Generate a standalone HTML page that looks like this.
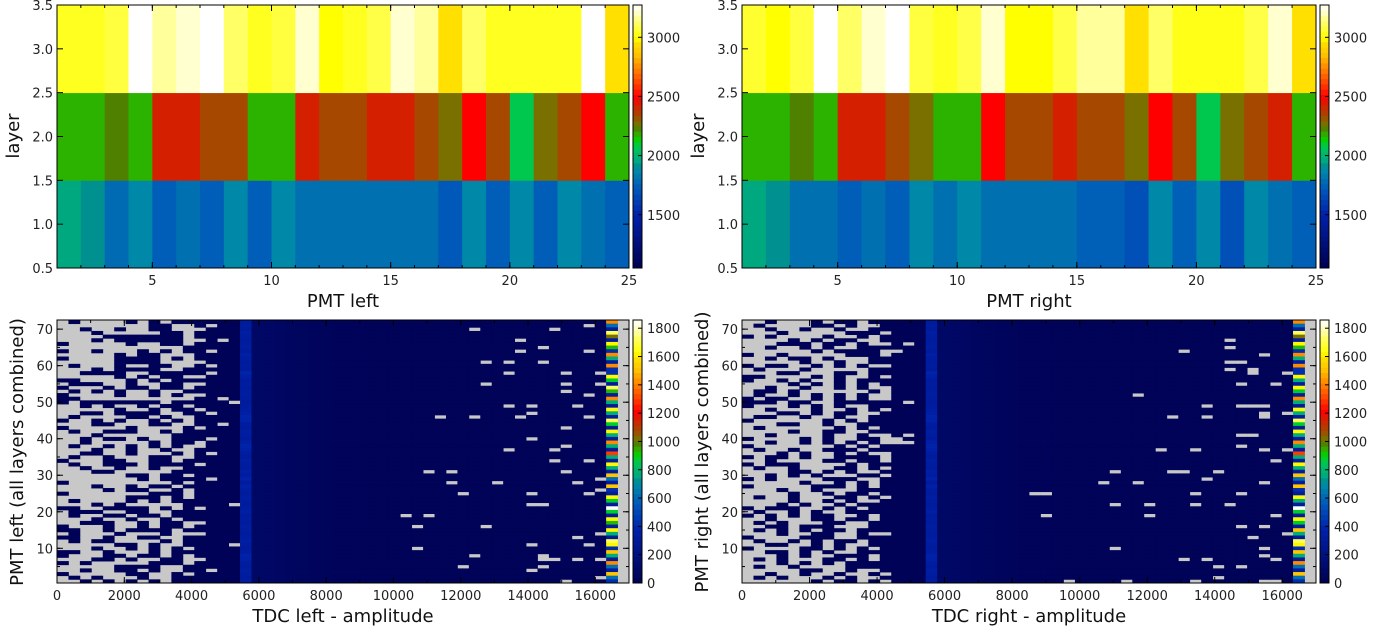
<!DOCTYPE html>
<html><head><meta charset="utf-8"><style>
html,body{margin:0;padding:0;background:#fff;}
svg{display:block;font-family:"DejaVu Sans","Liberation Sans",sans-serif;}
</style></head><body>
<svg id="root" width="1378" height="636" viewBox="0 0 1378 636" xmlns="http://www.w3.org/2000/svg"></svg>
<script>
// ---------- data: top heatmaps (layer x PMT) ----------
const pmtCategories = [1,2,3,4,5,6,7,8,9,10,11,12,13,14,15,16,17,18,19,20,21,22,23,24];
const leftLayer3 = [3040,3040,3080,3280,3170,3220,3280,3120,3040,3080,3220,3000,3040,3090,3220,3170,2950,3120,3040,3040,3040,3040,3280,2950];
const leftLayer2 = [2170,2170,2230,2170,2430,2430,2340,2340,2170,2170,2430,2340,2340,2430,2430,2340,2270,2500,2340,2080,2270,2340,2500,2170];
const leftLayer1 = [1960,1920,1780,1880,1740,1800,1740,1880,1740,1880,1800,1800,1800,1800,1800,1800,1720,1880,1740,1880,1740,1880,1800,1750];
const rightLayer3 = [3060,3000,3080,3280,3120,3220,3280,3080,3040,3090,3220,3000,3000,3090,3170,3170,2950,3120,3030,3030,3030,3090,3220,2950];
const rightLayer2 = [2170,2170,2230,2170,2430,2430,2340,2270,2170,2170,2500,2340,2340,2430,2340,2340,2270,2500,2340,2080,2270,2340,2430,2170];
const rightLayer1 = [1960,1920,1800,1800,1740,1800,1740,1880,1800,1880,1800,1800,1800,1800,1750,1750,1690,1880,1750,1880,1690,1880,1800,1750];
const topTicksY = [0.5,1.0,1.5,2.0,2.5,3.0,3.5];
const topTicksX = [5,10,15,20,25];
const topCbTicks = [1500,2000,2500,3000];
// ---------- data: bottom heatmaps (TDC amplitude x PMT) ----------
const leftRows = [
".#....#.#.######","........##..#.##","..#..#..##...###","...#.....##.####","....#######.####","...#.######..#.#",
"#.....#..##.####","...........#####","#..#...#.#.##.##",".....#.##...####","#....####.#.####",".....####....###",
".#...#..##..#.##","...#.####..#####","..####..#####.##",".....#.#.##..###","##....#.#.######",".###..#..##..###",
"#...#.##.##.####",".#.#.#..#..#####","#....#..#.#..###","##..........##.#","#.#######.#####.","..#.#..#.##.####",
".....#..#.##.###","..##.####..##.##",".#....##.#..####","#..#.#..#.#.####","...##...##..##.#","#.....#....#.###",
".#..###..#.#####","...#......######","..#.##.#..###.##","..#.....#.##.###",".#..#.#.#.#..###","...#..#..#..####",
"..##..#...#.#.##",".#..#...##..####","#...##..##.#####",".#..###.####.###","..#..#..#..#####","...##.....######",
"......##.##.####",".......#.####.##","#.........#.####","...#..#.##.#####","....#.##..#.####","#.......###.####",
"......###.#.####",".#....#.#.######","...#.#.....####.","##..####.#.#.###",".###..##..######",".#..##.##.######",
"...#..#..#.#####","..###..#.##..###","#...#..#.##.####","##..#.####.#####",".#...#...#...###","##..#..##..#####",
".#.##....#.#####",".....##.#..####.","...#..#.#.#.####","##..#...#.######","#...##.##.#.####","...##.#..##..###",
"#.#.....###.####",".....####..#####","..#..##.#..##.##","#.....##..#.####",".#.#...#..######","..#.#.#.#.######"];
const rightRows = [
"..#...#.##.#####",".#....##.#..####","..#..#..#..#####","...#.....###.###","#.#....#..#.####","....#.#.##..####",
"...###.##.#..#.#","..#..#.#..######","......#.####..##","#..#.....###.###","..#.##.#...#####",".....#..#..#####",
"#.##..#.#.#..###",".#...#.....#####","...##...##.#####","##....#.#..#.###","#..#.#..#.######","....#.#.#.#.####",
"..#..#..#.#..###",".##.#......#.###",".#..#.#.#.#..###","#.##..#.#.#..###","###.##..######.#","#...#.#.#..#####",
"..#...#..#.#.###","...##.#.##..####",".##..#..#..#####","#......#.#.#####","...##..#..######",".#......#.#.####",
"....#..##..#####","..#....#..#..###","#....#.#..##..##","..#..#.#.#.#..##","#.......#.#.####",".#..#..###.#####",
"...#.#..#.#..###","#.##.#..####.###","..#....##.##.###","#.###....#.#####",".#..#...##.#.###","....##.#.#..####",
"..#.#.#...##.###","#.#....###..####",".....#..#.#.####","#.....###.#.####","...#..#...######","....#..#.##.####",
".#..#...##.#.###","....#..#.#..####","...#.#..#.######","#.###..#.#.#####",".#..#.#..#######","#.#.#.##..#.####",
"..#...##.##.####",".#.#...##..#####","..##.###...#####",".#.#.#.##.######","...#..##..#..###","#....###..######",
".#..#.#.##.#####","..##..#.#..#####","#....##.#.#.####","..##.#.#..######","...#.#..###.####",".#.#...##.#.####",
"...#.#.#.#######",".#..#....#######",".....##..#..####","..#..#..#..#.###",".#.#...#.#..####","......#.##.#.###"];
// isolated empty bins beyond the dense region: [row, bin]
const leftEmpty = [[70,36],[70,43],[71,46],[67,40],[65,42],[64,40],[64,46],[61,37],[61,39],[61,42],[58,39],[58,44],[58,47],[55,37],[55,44],[55,47],[53,44],[52,46],[49,39],[49,41],[49,45],[47,41],[46,33],[46,36],[46,40],[46,46],[43,44],[40,41],[38,44],[37,39],[37,43],[34,43],[34,46],[31,32],[31,34],[31,44],[29,47],[28,34],[28,38],[28,45],[26,47],[25,35],[25,41],[25,46],[22,41],[22,42],[19,30],[19,32],[16,31],[16,37],[14,47],[13,45],[11,41],[11,46],[10,31],[8,36],[8,42],[7,42],[7,43],[7,45],[7,47],[5,35],[5,42],[4,41],[2,47],[1,44]];
const rightEmpty = [[67,42],[65,42],[64,38],[63,45],[61,42],[61,43],[59,42],[59,44],[58,44],[58,47],[55,43],[55,46],[52,34],[49,40],[49,43],[49,44],[49,45],[46,37],[46,40],[46,45],[47,45],[47,47],[41,43],[41,44],[41,14],[39,14],[38,43],[37,36],[37,39],[37,45],[37,47],[34,46],[31,32],[31,37],[31,38],[31,41],[29,40],[28,31],[28,34],[28,45],[25,25],[25,26],[25,39],[25,43],[22,32],[22,35],[22,39],[22,42],[19,26],[19,35],[19,46],[16,43],[16,45],[14,47],[13,44],[10,32],[10,45],[8,45],[7,38],[7,40],[7,46],[5,41],[5,43],[2,41],[1,28],[1,33],[1,39],[1,45],[1,46]];
// bin 16 (brighter blue column) per row, top (72) to bottom (1)
const leftBright = [330,340,330,350,340,330,340,350,330,360,340,330,340,330,390,360,330,340,330,340,350,340,330,340,350,360,390,380,340,330,350,340,330,360,390,370,340,330,350,340,330,360,340,380,330,370,340,330,350,340,330,340,360,330,340,330,350,340,330,340,360,340,330,340,380,370,340,330,350,340,330,340];
const rightBright = leftBright.map(function(v){return v;});
// baseline counts across amplitude bins 16..47 (bin 16 overridden above)
const midBase = [350,95,85,75,65,55,50,45,40,40,38,36,35,34,33,32,32,31,30,30,30,30,30,30,30,30,30,30,30,30,30,30];
const denseNavy = 28;
// bin 48 stripe column per row, top (72) to bottom (1)
const leftStripe = [1420,620,330,1720,1020,330,1620,930,420,1420,780,330,1420,420,420,1620,880,330,1720,930,330,1420,780,330,1620,780,330,1720,880,330,1620,780,330,1420,780,330,1300,780,330,1620,780,330,1520,620,330,1520,420,330,1620,880,330,1850,880,330,1620,930,330,1620,780,330,1720,1620,420,1520,780,330,1420,620,330,1520,620,420];
const rightStripe = [1420,620,330,1720,1020,330,1620,930,420,1420,780,330,1420,420,420,1620,780,330,1620,880,330,1420,780,330,1620,780,330,1720,880,330,1620,780,330,1420,780,330,1300,780,330,1620,780,330,1520,620,330,1520,420,330,1620,780,330,1850,880,330,1620,880,330,1520,780,330,1720,1620,420,1520,780,330,1420,620,330,1520,620,420];
const botTicksX = [0,2000,4000,6000,8000,10000,12000,14000,16000];
const botTicksY = [10,20,30,40,50,60,70];
const botCbTicks = [0,200,400,600,800,1000,1200,1400,1600,1800];

// ---------- palette ----------
const palStops = [[0,'#000050'],[0.202,'#0020a8'],[0.288,'#0050b8'],[0.315,'#0060b8'],[0.337,'#0070b0'],[0.373,'#0088a8'],[0.391,'#009090'],[0.409,'#00a880'],[0.463,'#00c850'],[0.486,'#00d000'],[0.504,'#2bb300'],[0.531,'#508000'],[0.549,'#7a7000'],[0.58,'#a64800'],[0.621,'#d42000'],[0.652,'#ff0000'],[0.742,'#ff7000'],[0.81,'#ffc000'],[0.855,'#ffe000'],[0.877,'#ffff00'],[0.922,'#ffff50'],[0.976,'#ffffd0'],[1,'#ffffff']];
function hx(c){return [parseInt(c.substr(1,2),16),parseInt(c.substr(3,2),16),parseInt(c.substr(5,2),16)];}
function palette(t){
  t=Math.max(0,Math.min(1,t));
  for(let i=1;i<palStops.length;i++){
    if(t<=palStops[i][0]){
      const a=palStops[i-1],b=palStops[i];const f=(t-a[0])/(b[0]-a[0]||1);
      const ca=hx(a[1]),cb=hx(b[1]);
      return 'rgb('+ca.map((v,k)=>Math.round(v+(cb[k]-v)*f)).join(',')+')';
    }
  }
  return '#ffffff';
}
const NS='http://www.w3.org/2000/svg';
const root=document.getElementById('root');
function el(tag,attrs,parent){const e=document.createElementNS(NS,tag);for(const k in attrs)e.setAttribute(k,attrs[k]);(parent||root).appendChild(e);return e;}
function txt(s,attrs,parent){const e=el('text',attrs,parent);e.textContent=s;return e;}

function frameAndTicks(g,x0,x1,y0,y1,xs,ys,ticksX,ticksY,fmtX,fmtY,minorX,minorY){
  const fr=el('rect',{x:x0,y:y0,width:x1-x0,height:y1-y0,fill:'none',stroke:'#000','stroke-width':1},g);
  
  
  minorX.forEach(v=>{const X=xs(v);el('line',{x1:X,x2:X,y1:y1,y2:y1-3,stroke:'#000'},g);el('line',{x1:X,x2:X,y1:y0,y2:y0+3,stroke:'#000'},g);});
  minorY.forEach(v=>{const Y=ys(v);el('line',{x1:x0,x2:x0+3,y1:Y,y2:Y,stroke:'#000'},g);el('line',{x1:x1,x2:x1-3,y1:Y,y2:Y,stroke:'#000'},g);});
  ticksX.forEach(v=>{const X=xs(v);
    el('line',{x1:X,x2:X,y1:y1,y2:y1-6,stroke:'#000'},g);el('line',{x1:X,x2:X,y1:y0,y2:y0+6,stroke:'#000'},g);
    const t=txt(fmtX(v),{x:X,y:y1+17,'font-size':13,'text-anchor':'middle',fill:'#222'},g);
    
    
  });
  ticksY.forEach(v=>{const Y=ys(v);
    el('line',{x1:x0,x2:x0+6,y1:Y,y2:Y,stroke:'#000'},g);el('line',{x1:x1,x2:x1-6,y1:Y,y2:Y,stroke:'#000'},g);
    const t=txt(fmtY(v),{x:x0-4,y:Y+5,'font-size':13,'text-anchor':'end',fill:'#222'},g);
    
    
  });
}
function colorbar(g,cx,y0,y1,vmin,vmax,ticks){
  const n=50,h=(y1-y0)/n;
  for(let i=0;i<n;i++){
    const r=el('rect',{x:cx,y:y1-(i+1)*h,width:9,height:h+0.5,fill:palette((i+0.5)/n)},g);
    
    
  }
  const fr=el('rect',{x:cx,y:y0,width:9,height:y1-y0,fill:'none',stroke:'#000'},g);
  
  
  ticks.forEach(v=>{const Y=y1-(v-vmin)/(vmax-vmin)*(y1-y0);
    el('line',{x1:cx+9,x2:cx+5,y1:Y,y2:Y,stroke:'#000'},g);
    const t=txt(String(v),{x:cx+14,y:Y+5,'font-size':13,fill:'#222'},g);
    
    
  });
}

function drawTop(name,x0,x1,l1,l2,l3,xtitle,cbx){
  const g=el('g',{});
  
  
  const y0=5,y1=268,vmin=1050,vmax=3273;
  const xs=v=>x0+(v-1)/24*(x1-x0), ys=v=>y1-(v-0.5)/3*(y1-y0);
  [l1,l2,l3].forEach((arr,li)=>{
    arr.forEach((v,i)=>{
      const c=pmtCategories[i];
      const X=xs(c),X2=xs(c+1),Y=ys(li+1.5),Y2=ys(li+0.5);
      const r=el('rect',{x:X,y:Y,width:X2-X+0.4,height:Y2-Y+0.4,fill:palette((v-vmin)/(vmax-vmin))},g);
      
      
    });
  });
  const minX=[];for(let i=1;i<=25;i++)minX.push(i);
  frameAndTicks(g,x0,x1,y0,y1,xs,ys,topTicksX,topTicksY,v=>String(v),v=>v.toFixed(1),minX,[]);
  colorbar(g,cbx,y0,y1,vmin,vmax,topCbTicks);
  const t=txt(xtitle,{x:(x0+x1)/2,y:307,'font-size':18,'text-anchor':'middle',fill:'#111'},g);
  
  
  const yt=txt('layer',{x:0,y:0,'font-size':18,'text-anchor':'middle',fill:'#111',transform:'translate('+(x0-38)+',136) rotate(-90)'},g);
  
  
}

function drawBottom(name,x0,x1,rows,empty,bright,stripe,xtitle,ytitle,cbx){
  const g=el('g',{});
  
  
  const y0=320,y1=583,vmax=1858,binW=340,nb=50;
  const xs=v=>x0+v/17000*(x1-x0), ys=v=>y1-(v-0.5)/72*(y1-y0);
  const bg=el('rect',{x:x0,y:y0,width:x1-x0,height:y1-y0,fill:'#c8c8c8'},g);
  
  
  const emptySet={};empty.forEach(e=>{emptySet[e[0]+'_'+e[1]]=1;});
  for(let ri=0;ri<72;ri++){
    const row=72-ri;
    for(let b=0;b<nb;b++){
      let v=0;
      if(b<16){v=rows[ri][b]==='#'?denseNavy:0;}
      else if(b===16){v=bright[ri];}
      else if(b<48){v=emptySet[row+'_'+b]?0:midBase[b-16];}
      else if(b===48){v=stripe[ri];}
      if(b<16&&emptySet[row+'_'+b])v=0;
      if(v<=0)continue;
      const X=xs(b*binW),X2=xs((b+1)*binW),Y=ys(row+0.5),Y2=ys(row-0.5);
      const r=el('rect',{x:X,y:Y,width:X2-X+0.4,height:Y2-Y+0.4,fill:palette(v/vmax)},g);
      
      
    }
  }
  const minX=[];for(let v=0;v<=17000;v+=1000)minX.push(v);
  const minY=[];for(let v=5;v<=72;v+=5)minY.push(v);
  frameAndTicks(g,x0,x1,y0,y1,xs,ys,botTicksX,botTicksY,v=>String(v),v=>String(v),minX,minY);
  colorbar(g,cbx,y0,y1,0,vmax,botCbTicks);
  const t=txt(xtitle,{x:(x0+x1)/2,y:622,'font-size':18,'text-anchor':'middle',fill:'#111'},g);
  
  
  const yt=txt(ytitle,{x:0,y:0,'font-size':18,'text-anchor':'middle',fill:'#111',transform:'translate('+(x0-34)+',452) rotate(-90)'},g);
  
  
}

drawTop('layer-vs-pmt-left',57,629,leftLayer1,leftLayer2,leftLayer3,'PMT left',633);
drawTop('layer-vs-pmt-right',742,1316,rightLayer1,rightLayer2,rightLayer3,'PMT right',1320);
drawBottom('tdc-left-heatmap',57,629,leftRows,leftEmpty,leftBright,leftStripe,'TDC left - amplitude','PMT left (all layers combined)',633);
drawBottom('tdc-right-heatmap',742,1316,rightRows,rightEmpty,rightBright,rightStripe,'TDC right - amplitude','PMT right (all layers combined)',1320);
</script>
</body></html>
